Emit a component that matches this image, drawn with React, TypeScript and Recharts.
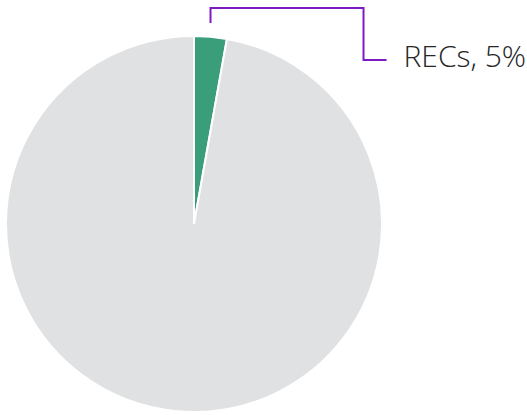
import React from "react";
import { PieChart, Pie, Cell } from "recharts";

const categories = ["RECs", "Other"];
const values = [2.8, 97.2];
const labelTexts = ["RECs, 5%", ""];
const colors = ["#3A9E7B", "#E0E1E2"];

const data = categories.map((name, i) => ({ name, value: values[i], label: labelTexts[i] }));

const RAD = Math.PI / 180;

const renderLabel = (props: any) => {
  const { cx, cy, midAngle, outerRadius, index } = props;
  if (!labelTexts[index]) return null;
  const x0 = cx + outerRadius * Math.cos(-midAngle * RAD);
  const y0 = cy - outerRadius - 13;
  const topY = cy - outerRadius - 28;
  const x1 = x0 + 153;
  const y2 = topY + 52;
  const x2 = x1 + 23;
  return (
    <g>
      <polyline
        points={`${x0},${y0} ${x0},${topY} ${x1},${topY} ${x1},${y2} ${x2},${y2}`}
        fill="none"
        stroke="#7A1BC4"
        strokeWidth={2}
      />
      <text
        x={x2 + 17}
        y={y2 + 7}
        fill="#262626"
        fontFamily="'Open Sans', sans-serif"
        fontWeight={300}
        fontSize={30}
      >
        {labelTexts[index]}
      </text>
    </g>
  );
};

export default function App() {
  return (
    <div style={{ position: "absolute", left: 0, top: 0, width: 527, height: 415 }}>
      <PieChart width={527} height={415} margin={{ top: 0, right: 0, bottom: 0, left: 0 }}>
        <Pie
          data={data}
          dataKey="value"
          nameKey="name"
          cx={194}
          cy={224}
          outerRadius={188}
          startAngle={90}
          endAngle={-270}
          stroke="#ffffff"
          strokeWidth={2}
          label={renderLabel}
          labelLine={false}
          isAnimationActive={false}
        >
          {data.map((d, i) => (
            <Cell key={d.name} fill={colors[i]} />
          ))}
        </Pie>
      </PieChart>
    </div>
  );
}
